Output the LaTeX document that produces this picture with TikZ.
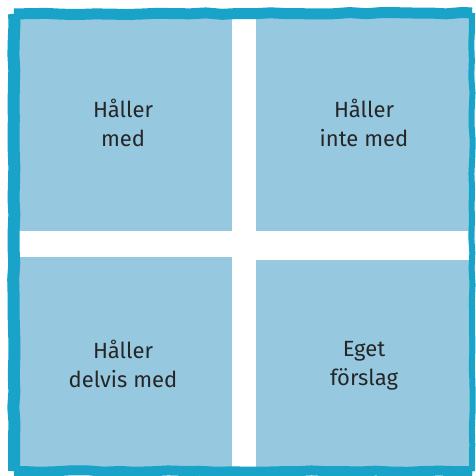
\documentclass[tikz,border=0pt]{standalone}
\usepackage{fontspec}
\setmainfont{Fira Sans}
\usetikzlibrary{decorations.pathmorphing}

\definecolor{feltblue}{HTML}{96C8E0}
\definecolor{penblue}{HTML}{1AA3C8}
\definecolor{inkgray}{HTML}{262626}

\tikzset{
	field/.style={fill=feltblue, inner sep=0pt, align=center, text=inkgray,
		font=\fontsize{22}{29}\selectfont},
	brush/.style={draw=penblue, line cap=square, decorate,
		decoration={random steps, segment length=16pt, amplitude=0.8pt}}
}

\begin{document}
\begin{tikzpicture}[x=1pt, y=-1pt]
	\useasboundingbox (0,0) rectangle (475,476);

	\node[field, minimum width=218pt, minimum height=217pt] (q1) at (123,122.5) {Håller\\med};
	\node[field, minimum width=216pt, minimum height=217pt] (q2) at (364,122.5) {Håller\\inte med};
	\node[field, minimum width=218pt, minimum height=213pt] (q3) at (123,363.5) {Håller\\delvis med};
	\node[field, minimum width=216pt, minimum height=213pt] (q4) at (364,366) {Eget\\förslag};

	\coordinate (c1) at (14,14);
	\coordinate (c2) at (472,13);
	\coordinate (c3) at (472,471);
	\coordinate (c4) at (14,471);

	% rough frame
	\foreach \i / \j / \w / \s in {
	1/2/11/3,
	2/3/6/5,
	3/4/10/7,
	4/1/12/9}
	{
		\pgfmathsetseed{\s}
		\draw[brush, line width=\w pt] (c\i) -- (c\j);
		\draw[brush, line width=0.6*\w pt] (c\i) -- (c\j);
	};
\end{tikzpicture}
\end{document}
